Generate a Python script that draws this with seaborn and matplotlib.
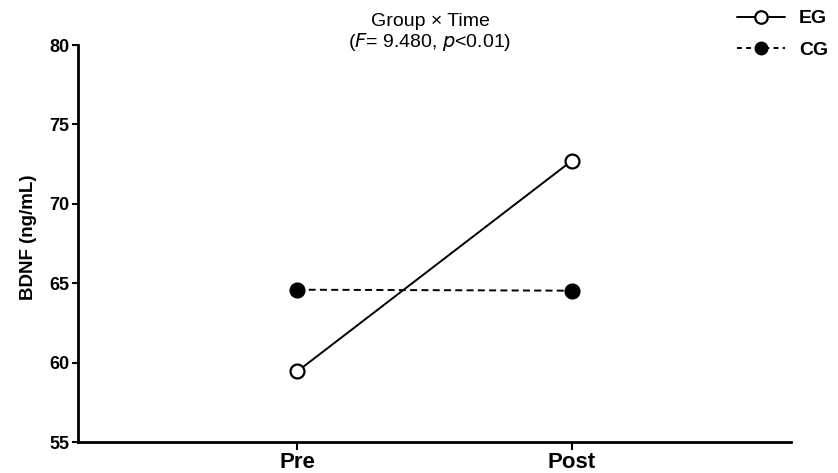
import matplotlib
matplotlib.use("Agg")
import matplotlib.pyplot as plt
import seaborn as sns
import pandas as pd
from matplotlib.lines import Line2D

# Mean BDNF by group and time point
times = ["Pre", "Post"]
groups = ["EG", "CG"]
eg_values = [59.45, 72.70]
cg_values = [64.59, 64.53]

sns.set_theme(style="ticks")
plt.rcParams["font.family"] = ["Liberation Sans", "DejaVu Sans"]
plt.rcParams["text.color"] = "black"
plt.rcParams["axes.labelcolor"] = "black"
plt.rcParams["xtick.color"] = "black"
plt.rcParams["ytick.color"] = "black"

df = pd.DataFrame({
    "pos": [0, 1, 0, 1],
    "time": times * 2,
    "group": ["EG", "EG", "CG", "CG"],
    "bdnf": eg_values + cg_values,
})

fig = plt.figure(figsize=(8.38, 4.73), dpi=100)
ax = fig.add_axes([78 / 838, 1 - 442 / 473, (791 - 78) / 838, (442 - 45) / 473])

styles = {
    "EG": dict(linestyle="-", markerfacecolor="white"),
    "CG": dict(linestyle=(0, (3.6, 2.2)), markerfacecolor="black"),
}
for g in groups:
    sub = df[df["group"] == g]
    sns.lineplot(data=sub, x="pos", y="bdnf", ax=ax, color="black",
                 linewidth=1.4, marker="o", markersize=10,
                 markeredgecolor="black", markeredgewidth=1.6,
                 legend=False, zorder=3, **styles[g])

ax.set_xlim(-0.8, 1.8)
ax.set_ylim(55, 80)
ax.set_xticks([0, 1])
ax.set_xticklabels(times)
ax.set_yticks([55, 60, 65, 70, 75, 80])
ax.set_xlabel("")
ax.set_ylabel("BDNF (ng/mL)", fontsize=13.5, fontweight="bold")
ax.yaxis.set_label_coords(-0.057, 0.515)
for lbl in ax.get_xticklabels():
    lbl.set_fontweight("bold")
    lbl.set_fontsize(16)
for lbl in ax.get_yticklabels():
    lbl.set_fontweight("bold")
    lbl.set_fontsize(13)
ax.tick_params(axis="y", direction="out", length=4, width=1.5, pad=2)
ax.tick_params(axis="x", direction="out", length=6, width=1.5, pad=1)
for s in ["top", "right"]:
    ax.spines[s].set_visible(False)
for s in ["left", "bottom"]:
    ax.spines[s].set_linewidth(2)
    ax.spines[s].set_color("black")

fig.text(430 / 838, 1 - 22 / 473, "Group × Time", ha="center", va="center", fontsize=14)
fig.text(430 / 838, 1 - 42 / 473, r"($\it{F}$= 9.480, $\it{p}$<0.01)", ha="center",
         va="center", fontsize=14)

handles = [
    Line2D([], [], color="black", linestyle="-", linewidth=1.4, marker="o", markersize=9,
           markerfacecolor="white", markeredgecolor="black", markeredgewidth=1.6),
    Line2D([], [], color="black", linestyle=(0, (2.5, 2.2)), linewidth=1.4, marker="o",
           markersize=9, markerfacecolor="black", markeredgecolor="black"),
]
leg = fig.legend(handles, groups, loc="upper right", bbox_to_anchor=(1.0, 1.0),
                 frameon=False, handlelength=2.45, handletextpad=0.75, labelspacing=0.72,
                 prop={"weight": "bold", "size": 14}, borderaxespad=0.0, borderpad=0.5)

fig.savefig("out.png", dpi=100, facecolor="white")
